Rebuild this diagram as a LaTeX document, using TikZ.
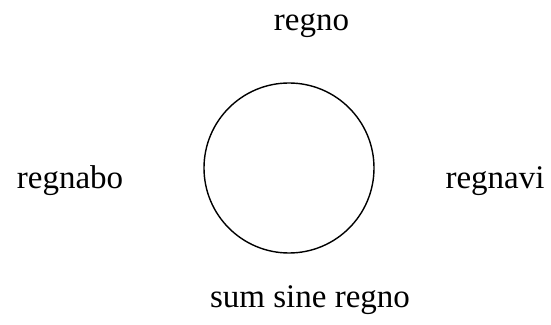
\documentclass[tikz,border=0pt]{standalone}
\usepackage{fontspec}
\setmainfont{Liberation Serif}
\usetikzlibrary{positioning}

\begin{document}
\begin{tikzpicture}[
    x=1pt, y=1pt,
    font=\fontsize{33}{39}\selectfont,
    word/.style={anchor=base, inner sep=0pt}
]
    % --- bounding box ---
    \useasboundingbox (0,0) rectangle (551,324);

    % --- the wheel ---
    \node[draw, circle, line width=1.4pt, minimum size=170pt, inner sep=0pt] (wheel) at (289,156) {};

    % --- the four words ---
    \node[word] (regno)   at (311.5,293) {regno};
    \node[word] (regnavi) at (495,135)   {regnavi};
    \node[word] (sine)    at (310,17)    {sum sine regno};
    \node[word] (regnabo) at (70,135)    {regnabo};
\end{tikzpicture}
\end{document}
